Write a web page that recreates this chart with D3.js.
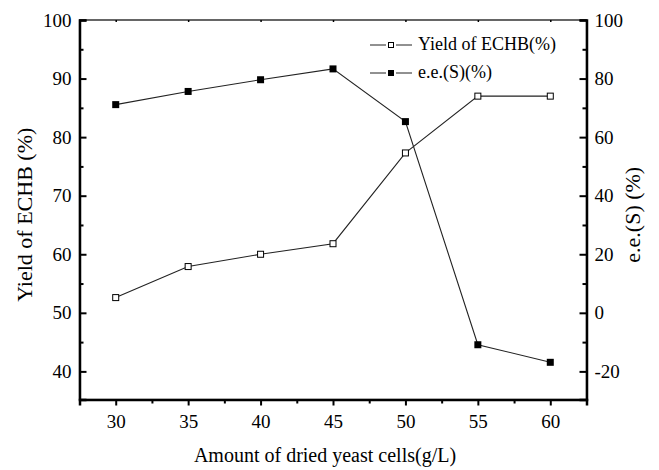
<!DOCTYPE html>
<html>
<head>
<meta charset="utf-8">
<script src="https://cdn.jsdelivr.net/npm/d3@7"></script>
<style>
  body { margin: 0; background: #fff; }
  svg text { font-family: "Liberation Serif", "DejaVu Serif", serif; fill: #000; }
</style>
</head>
<body>
<svg id="chart" width="659" height="470"></svg>
<script>
// amount of dried yeast cells (g/L)
var amounts = [30, 35, 40, 45, 50, 55, 60];
// yield of ECHB (%), left axis
var yieldVals = [52.6, 57.9, 60.0, 61.8, 77.3, 87.0, 87.0];
// e.e.(S) (%), right axis
var eeVals = [71.1, 75.6, 79.6, 83.3, 65.3, -10.9, -16.9];

var xTicks = [30, 35, 40, 45, 50, 55, 60];
var xMinor = [32.5, 37.5, 42.5, 47.5, 52.5, 57.5];
var leftTicks = [40, 50, 60, 70, 80, 90, 100];
var leftMinor = [45, 55, 65, 75, 85, 95];
var rightTicks = [-20, 0, 20, 40, 60, 80, 100];
var rightMinor = [-10, 10, 30, 50, 70, 90];

var SERIF = "'Liberation Serif', 'DejaVu Serif', serif";

function drawChart() {
  var svg = d3.select("#chart");
  var pl = 79.5, pr = 586.5, pt = 20, pb = 399.5;

  var x = d3.scaleLinear().domain([27.5, 62.5]).range([pl, pr]);
  var yL = d3.scaleLinear().domain([35.2, 100]).range([pb, pt]);
  var yR = d3.scaleLinear().domain([-29.6, 100]).range([pb, pt]);
  var fmt = function(d) { return String(d); };   // plain hyphen for negatives

  // frame
  svg.append("rect")
    .attr("x", pl).attr("y", pt)
    .attr("width", pr - pl).attr("height", pb - pt)
    .attr("fill", "none").attr("stroke", "#000").attr("stroke-width", 1.2);

  function styleAxis(g, width) {
    g.attr("font-size", null).attr("font-family", null);
    g.select(".domain").attr("stroke", "#000").attr("stroke-width", width);
    g.selectAll(".tick line").attr("stroke", "#000").attr("stroke-width", 2);
    g.selectAll(".tick text").style("font-size", "19px").style("font-family", SERIF);
  }
  function minorTicks(g) {
    g.select(".domain").remove();
    g.selectAll("line").attr("stroke", "#000").attr("stroke-width", 2);
  }

  // bottom axis, ticks outward
  var gb = svg.append("g").attr("transform", "translate(0," + pb + ")")
    .call(d3.axisBottom(x).tickValues(xTicks).tickSize(6).tickPadding(9).tickFormat(fmt));
  styleAxis(gb, 2.5);
  svg.append("g").attr("transform", "translate(0," + pb + ")")
    .call(d3.axisBottom(x).tickValues(xMinor).tickSize(4).tickFormat(""))
    .call(minorTicks);

  // top ticks, small and inward
  svg.append("g").attr("transform", "translate(0," + pt + ")")
    .call(d3.axisBottom(x).tickValues(xTicks).tickSize(2).tickFormat(""))
    .call(function(g) { g.select(".domain").remove(); g.selectAll("line").attr("stroke", "#000").attr("stroke-width", 1.5); });

  // left axis, ticks inward
  var gl = svg.append("g").attr("transform", "translate(" + pl + ",0)")
    .call(d3.axisLeft(yL).tickValues(leftTicks).tickSize(-7).tickPadding(8).tickFormat(fmt));
  styleAxis(gl, 2.5);
  svg.append("g").attr("transform", "translate(" + pl + ",0)")
    .call(d3.axisLeft(yL).tickValues(leftMinor).tickSize(-4).tickFormat(""))
    .call(minorTicks);

  // right axis, ticks inward
  var gr = svg.append("g").attr("transform", "translate(" + pr + ",0)")
    .call(d3.axisRight(yR).tickValues(rightTicks).tickSize(-7).tickPadding(8).tickFormat(fmt));
  styleAxis(gr, 2.5);
  svg.append("g").attr("transform", "translate(" + pr + ",0)")
    .call(d3.axisRight(yR).tickValues(rightMinor).tickSize(-4).tickFormat(""))
    .call(minorTicks);

  // axis titles
  svg.append("text")
    .attr("x", (pl + pr) / 2 - 8).attr("y", 462)
    .attr("text-anchor", "middle").style("font-size", "20px").style("font-family", SERIF)
    .text("Amount of dried yeast cells(g/L)");
  svg.append("text")
    .attr("transform", "translate(32," + ((pt + pb) / 2 + 5) + ") rotate(-90)")
    .attr("text-anchor", "middle").style("font-size", "22px").style("font-family", SERIF)
    .text("Yield of ECHB (%)");
  svg.append("text")
    .attr("transform", "translate(640," + ((pt + pb) / 2 + 5) + ") rotate(-90)")
    .attr("text-anchor", "middle").style("font-size", "22px").style("font-family", SERIF)
    .text("e.e.(S) (%)");

  // series
  var yieldLine = d3.line().x(function(d, i) { return x(amounts[i]); }).y(function(d) { return yL(d); });
  var eeLine = d3.line().x(function(d, i) { return x(amounts[i]); }).y(function(d) { return yR(d); });

  svg.append("path").datum(yieldVals).attr("d", yieldLine)
    .attr("fill", "none").attr("stroke", "#222").attr("stroke-width", 1.1);
  svg.append("path").datum(eeVals).attr("d", eeLine)
    .attr("fill", "none").attr("stroke", "#222").attr("stroke-width", 1.1);

  svg.append("g").selectAll("rect").data(yieldVals).enter().append("rect")
    .attr("x", function(d, i) { return x(amounts[i]) - 3; })
    .attr("y", function(d) { return yL(d) - 3; })
    .attr("width", 6).attr("height", 6)
    .attr("fill", "#fff").attr("stroke", "#000").attr("stroke-width", 1);

  svg.append("g").selectAll("rect").data(eeVals).enter().append("rect")
    .attr("x", function(d, i) { return x(amounts[i]) - 3.5; })
    .attr("y", function(d) { return yR(d) - 3.5; })
    .attr("width", 7).attr("height", 7)
    .attr("fill", "#000");

  // legend
  var legend = [
    { label: "Yield of ECHB(%)", filled: false, y: 45 },
    { label: "e.e.(S)(%)", filled: true, y: 73 }
  ];
  legend.forEach(function(l) {
    var g = svg.append("g");
    g.append("line").attr("x1", 370).attr("x2", 386).attr("y1", l.y).attr("y2", l.y).attr("stroke", "#222");
    g.append("line").attr("x1", 396).attr("x2", 412).attr("y1", l.y).attr("y2", l.y).attr("stroke", "#222");
    if (l.filled) {
      g.append("rect").attr("x", 388).attr("y", l.y - 3).attr("width", 6).attr("height", 6).attr("fill", "#000");
    } else {
      g.append("rect").attr("x", 388.5).attr("y", l.y - 2.5).attr("width", 5).attr("height", 5)
        .attr("fill", "#fff").attr("stroke", "#000");
    }
    g.append("text").attr("x", 418).attr("y", l.y + 5)
      .style("font-size", "18px").style("font-family", SERIF).text(l.label);
  });
}

drawChart();
</script>
</body>
</html>
